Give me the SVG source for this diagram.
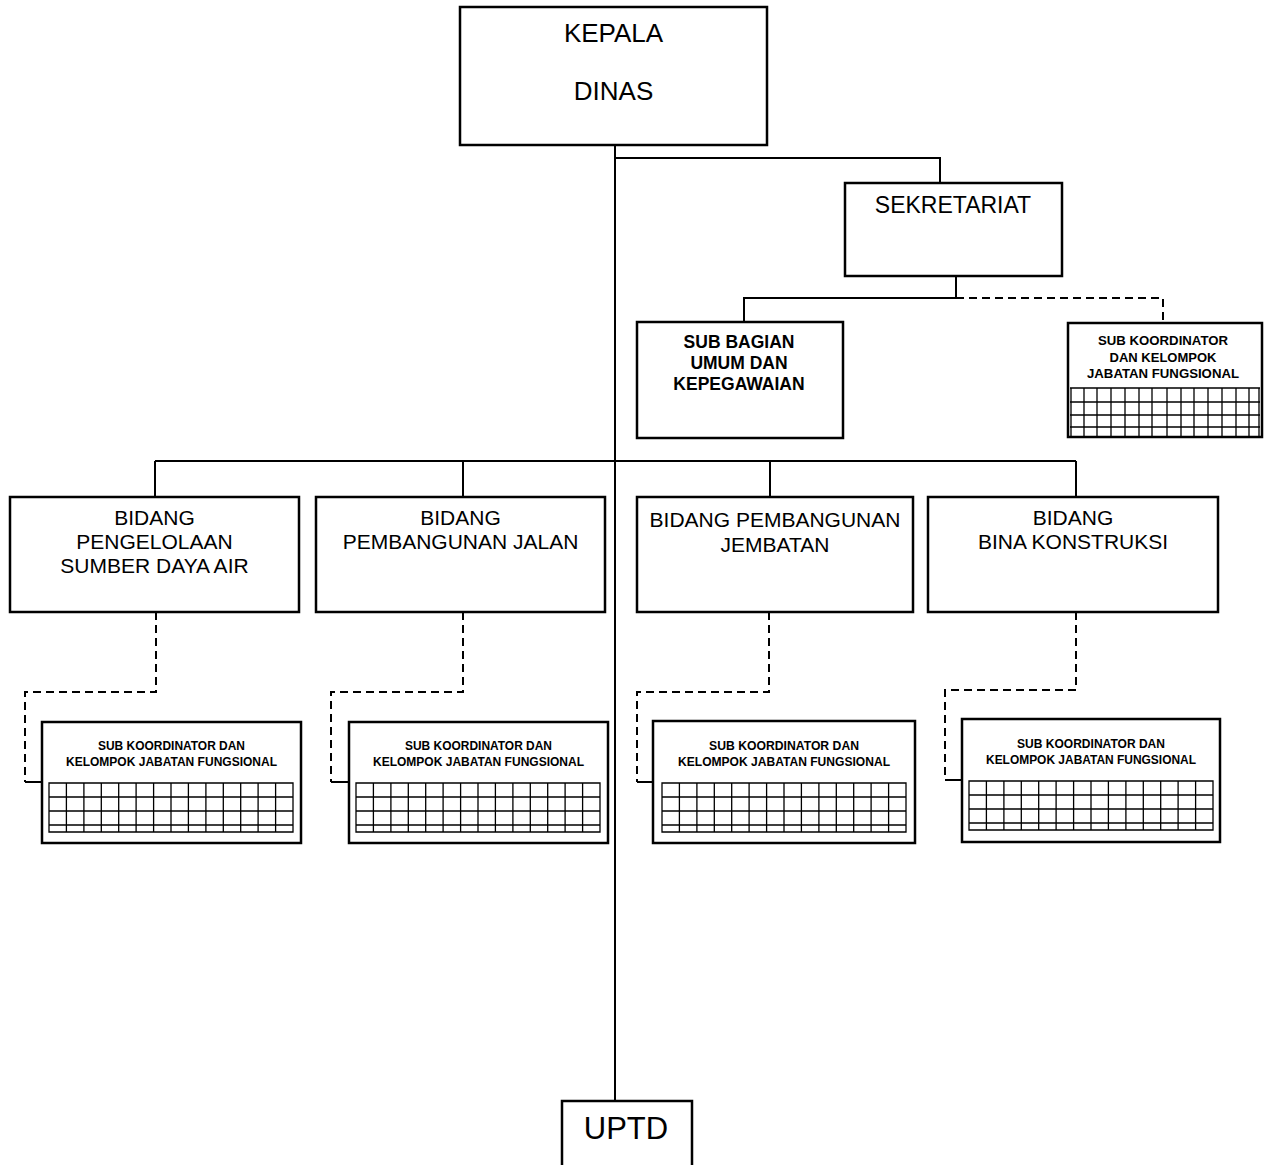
<svg xmlns="http://www.w3.org/2000/svg" width="1267" height="1165" viewBox="0 0 1267 1165">
<style>
.box{fill:#fff;stroke:#000;stroke-width:2.5}
.ln{fill:none;stroke:#000;stroke-width:2}
.dash{fill:none;stroke:#000;stroke-width:2;stroke-dasharray:8 5}
.grid{fill:none;stroke:#000;stroke-width:1.3}
.t{font-family:"Liberation Sans",Arial,sans-serif;fill:#000;text-anchor:middle}
.big{font-size:26px}
.mid{font-size:21px}
.sb{font-size:17.5px;font-weight:bold}
.sk{font-size:12px;font-weight:bold}
</style>
<rect width="1267" height="1165" fill="#fff"/>
<g id="connectors">
<path class="ln" d="M615 145 V1101"/>
<path class="ln" d="M615 158 H940 V183"/>
<path class="ln" d="M956 276 V298 H744 V322"/>
<path class="dash" d="M956 298 H1163 V322"/>
<path class="ln" d="M155 461 H1076"/>
<path class="ln" d="M155 461 V497 M463 461 V497 M770 461 V497 M1076 461 V497"/>
<path class="dash" d="M156 612 V692 H25 V782"/>
<path class="ln" d="M25 782 H42"/>
<path class="dash" d="M463 612 V692 H331 V782"/>
<path class="ln" d="M331 782 H349"/>
<path class="dash" d="M769 612 V692 H637 V782"/>
<path class="ln" d="M637 782 H653"/>
<path class="dash" d="M1076 612 V690 H945 V780"/>
<path class="ln" d="M945 780 H962"/>
</g>
<g id="kepala">
<rect class="box" x="460" y="7" width="307" height="138"/>
<text class="t big" x="613.5" y="42">KEPALA</text>
<text class="t big" x="613.5" y="100">DINAS</text>
</g>
<g id="sekretariat">
<rect class="box" x="845" y="183" width="217" height="93"/>
<text class="t" x="953" y="213" font-size="23px">SEKRETARIAT</text>
</g>
<g id="subbagian">
<rect class="box" x="637" y="322" width="206" height="116"/>
<text class="t sb" x="739" y="348">SUB BAGIAN</text>
<text class="t sb" x="739" y="369">UMUM DAN</text>
<text class="t sb" x="739" y="390">KEPEGAWAIAN</text>
</g>
<g id="subkoor-sekretariat">
<rect class="box" x="1068" y="323" width="194" height="114"/>
<text class="t sk" x="1163" y="345" textLength="130" lengthAdjust="spacingAndGlyphs">SUB KOORDINATOR</text>
<text class="t sk" x="1163" y="362" textLength="107" lengthAdjust="spacingAndGlyphs">DAN KELOMPOK</text>
<text class="t sk" x="1163" y="378" textLength="152" lengthAdjust="spacingAndGlyphs">JABATAN FUNGSIONAL</text>
<path class="grid" d="M1070 388 H1260 M1070 402 H1260 M1070 415 H1260 M1070 427 H1260 M1071 388 V436 M1084 388 V436 M1097 388 V436 M1111 388 V436 M1125 388 V436 M1139 388 V436 M1152 388 V436 M1167 388 V436 M1181 388 V436 M1194 388 V436 M1208 388 V436 M1222 388 V436 M1236 388 V436 M1249 388 V436 M1259 388 V436"/>
</g>
<g id="bidang-sda">
<rect class="box" x="10" y="497" width="289" height="115"/>
<text class="t mid" x="154.5" y="525">BIDANG</text>
<text class="t mid" x="154.5" y="549">PENGELOLAAN</text>
<text class="t mid" x="154.5" y="573">SUMBER DAYA AIR</text>
</g>
<g id="bidang-jalan">
<rect class="box" x="316" y="497" width="289" height="115"/>
<text class="t mid" x="460.5" y="525">BIDANG</text>
<text class="t mid" x="460.5" y="549">PEMBANGUNAN JALAN</text>
</g>
<g id="bidang-jembatan">
<rect class="box" x="637" y="497" width="276" height="115"/>
<text class="t mid" x="775" y="527">BIDANG PEMBANGUNAN</text>
<text class="t mid" x="775" y="552">JEMBATAN</text>
</g>
<g id="bidang-konstruksi">
<rect class="box" x="928" y="497" width="290" height="115"/>
<text class="t mid" x="1073" y="525">BIDANG</text>
<text class="t mid" x="1073" y="549">BINA KONSTRUKSI</text>
</g>
<defs>
<g id="gridb">
<path class="grid" d="M0 0 H244 V49 H0 Z M0 14 H244 M0 28 H244 M0 42 H244 M17.4 0 V49 M34.9 0 V49 M52.3 0 V49 M69.7 0 V49 M87.1 0 V49 M104.6 0 V49 M122 0 V49 M139.4 0 V49 M156.9 0 V49 M174.3 0 V49 M191.7 0 V49 M209.1 0 V49 M226.6 0 V49"/>
</g>
</defs>
<g id="subkoor-sda">
<rect class="box" x="42" y="722" width="259" height="121"/>
<text class="t sk" x="171.5" y="750" textLength="147" lengthAdjust="spacingAndGlyphs">SUB KOORDINATOR DAN</text>
<text class="t sk" x="171.5" y="766" textLength="211" lengthAdjust="spacingAndGlyphs">KELOMPOK JABATAN FUNGSIONAL</text>
<use href="#gridb" x="49" y="783"/>
</g>
<g id="subkoor-jalan">
<rect class="box" x="349" y="722" width="259" height="121"/>
<text class="t sk" x="478.5" y="750" textLength="147" lengthAdjust="spacingAndGlyphs">SUB KOORDINATOR DAN</text>
<text class="t sk" x="478.5" y="766" textLength="211" lengthAdjust="spacingAndGlyphs">KELOMPOK JABATAN FUNGSIONAL</text>
<use href="#gridb" x="356" y="783"/>
</g>
<g id="subkoor-jembatan">
<rect class="box" x="653" y="721" width="262" height="122"/>
<text class="t sk" x="784" y="750" textLength="150" lengthAdjust="spacingAndGlyphs">SUB KOORDINATOR DAN</text>
<text class="t sk" x="784" y="766" textLength="212" lengthAdjust="spacingAndGlyphs">KELOMPOK JABATAN FUNGSIONAL</text>
<use href="#gridb" x="662" y="783"/>
</g>
<g id="subkoor-konstruksi">
<rect class="box" x="962" y="719" width="258" height="123"/>
<text class="t sk" x="1091" y="748" textLength="148" lengthAdjust="spacingAndGlyphs">SUB KOORDINATOR DAN</text>
<text class="t sk" x="1091" y="764" textLength="210" lengthAdjust="spacingAndGlyphs">KELOMPOK JABATAN FUNGSIONAL</text>
<use href="#gridb" x="969" y="781"/>
</g>
<g id="uptd">
<path class="box" d="M562 1166 V1101 H692 V1166"/>
<text class="t" x="626" y="1139" font-size="31px">UPTD</text>
</g>
</svg>
